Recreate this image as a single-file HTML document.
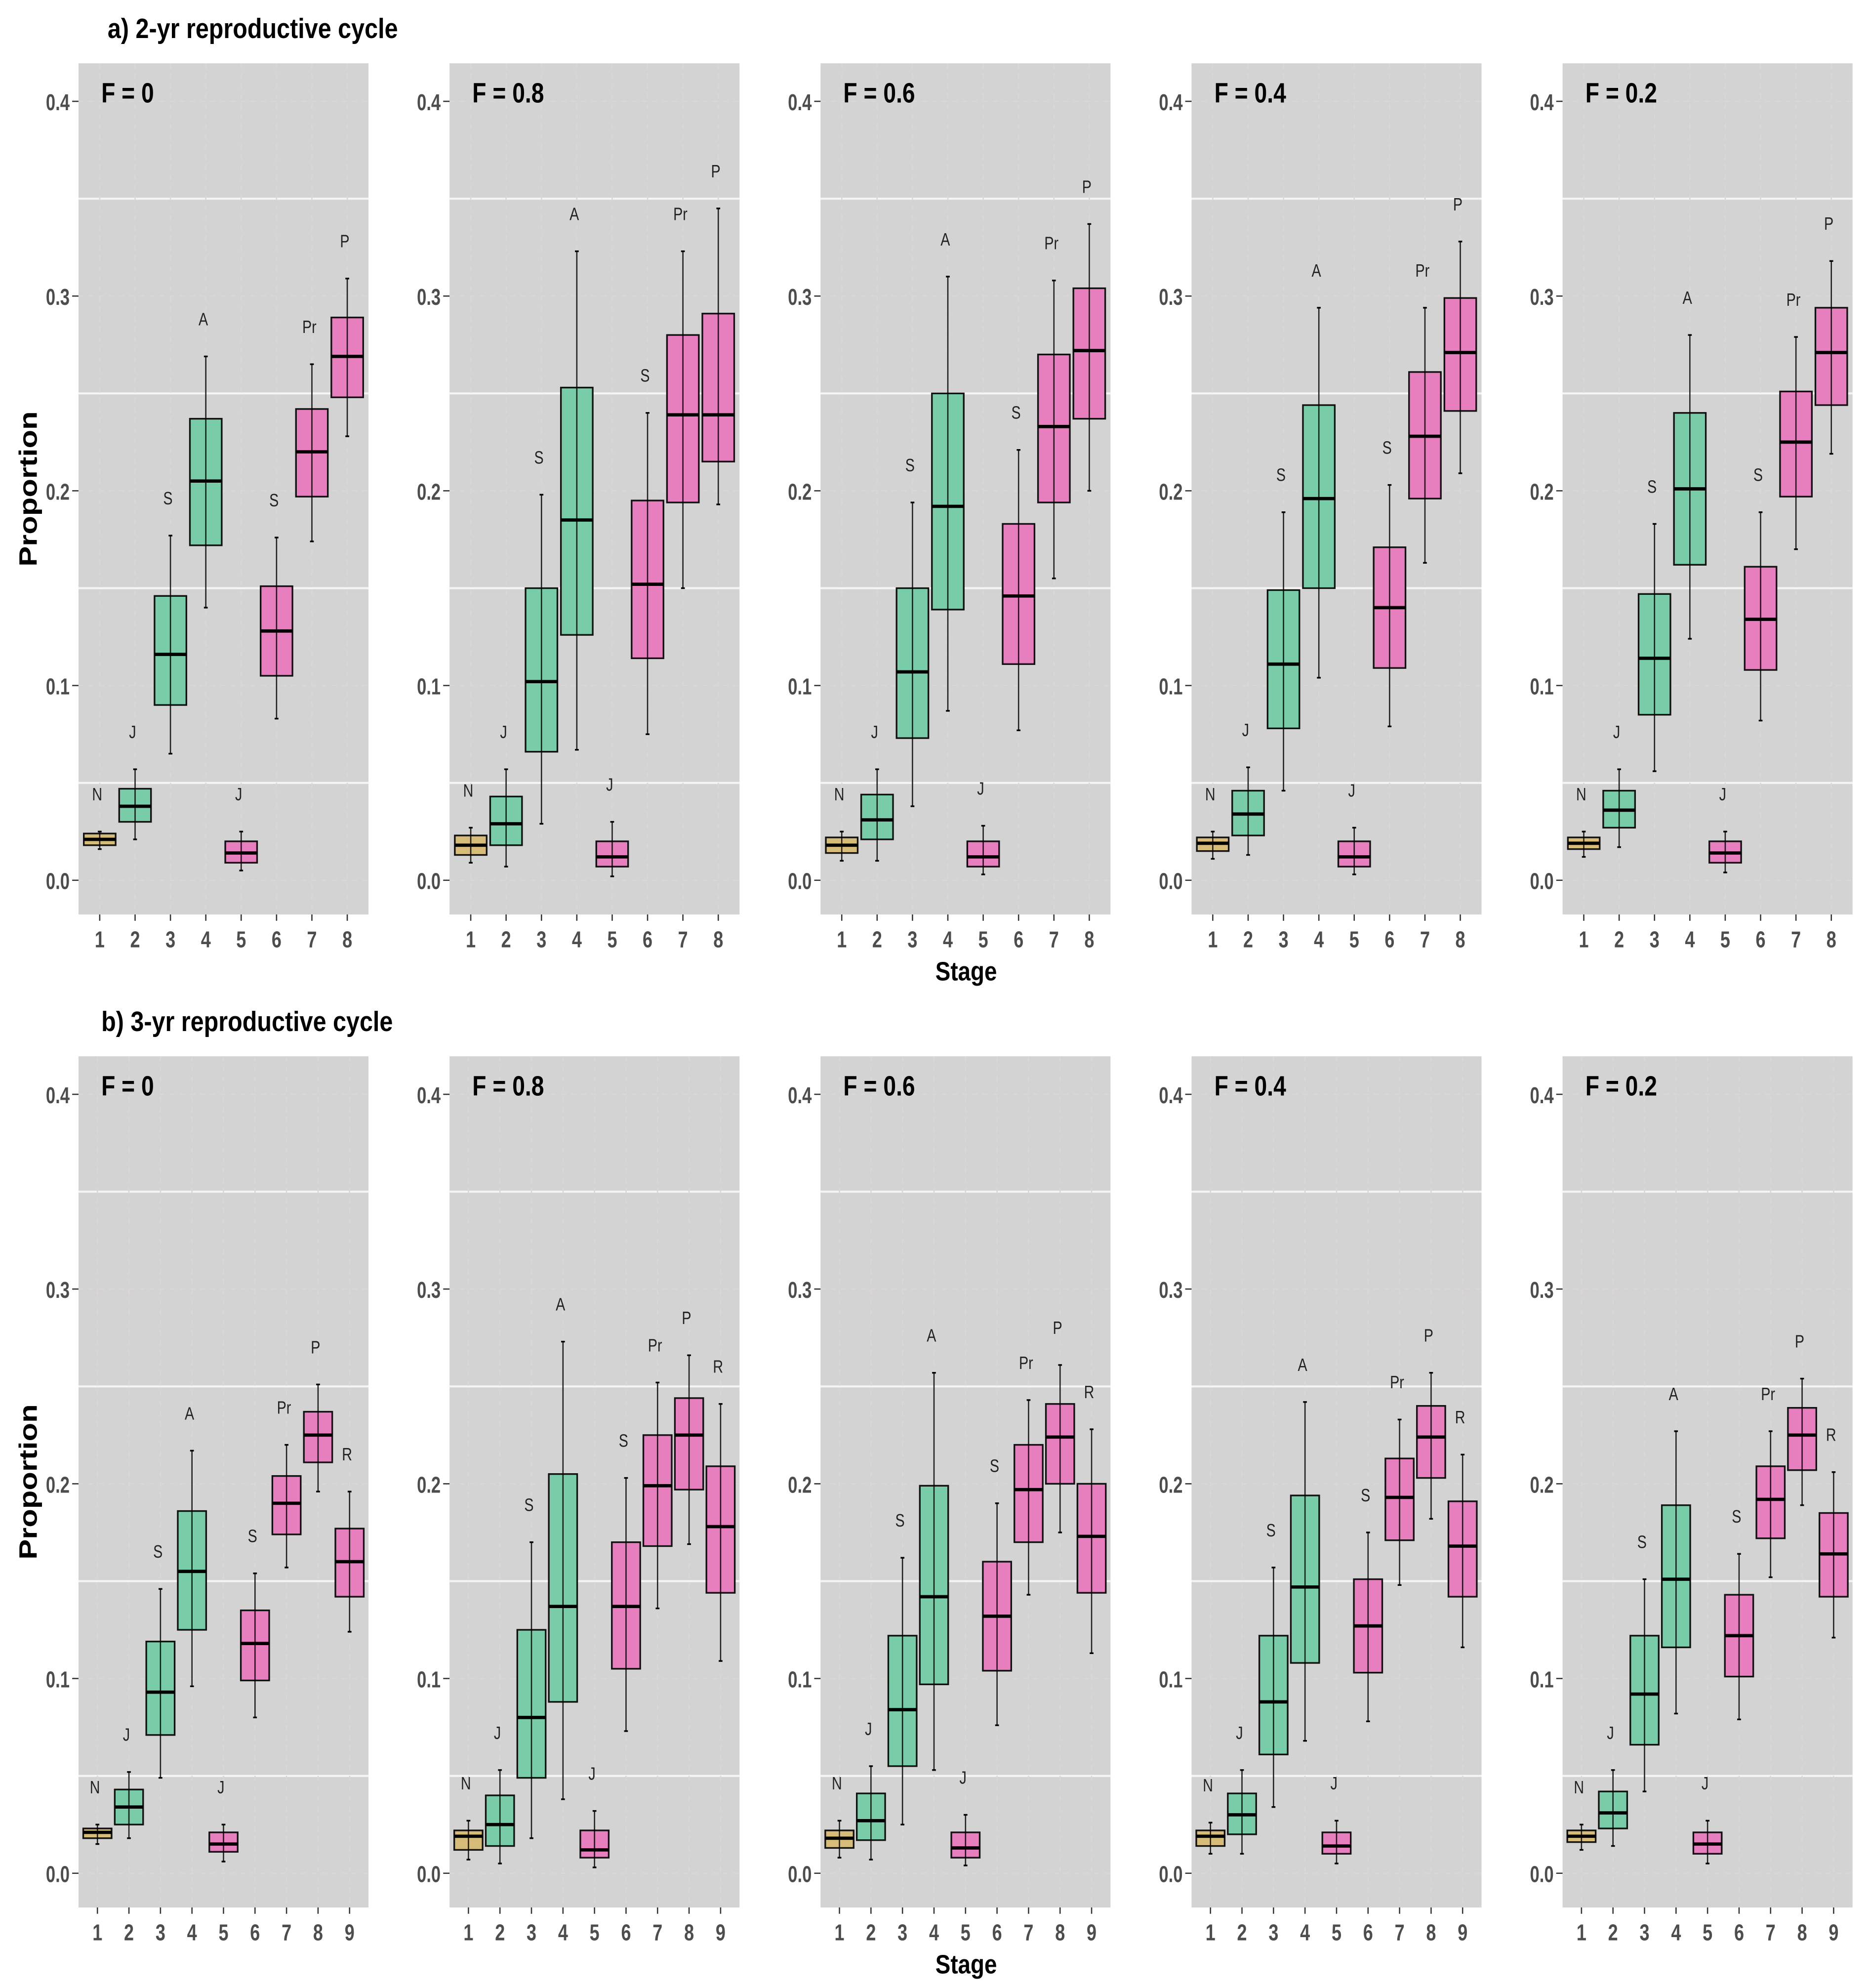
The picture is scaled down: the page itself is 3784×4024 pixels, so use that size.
<!DOCTYPE html>
<html><head><meta charset="utf-8"><style>
html,body{margin:0;padding:0;background:#fff}
svg{display:block}
text{font-family:"Liberation Sans",sans-serif}
</style></head><body>
<svg id="fig" width="3784" height="4024" viewBox="0 0 1476 1569.6" preserveAspectRatio="none" xmlns="http://www.w3.org/2000/svg"></svg>
<script>
// ---- data (each box: [upperWhisker, q3, median, q1, lowerWhisker]) ----
const panelTitles = ["F = 0","F = 0.8","F = 0.6","F = 0.4","F = 0.2"];
const yTicks = [0.0,0.1,0.2,0.3,0.4];
const yTickLabels = ["0.0","0.1","0.2","0.3","0.4"];
const stageLabelsA = ["N","J","S","A","J","S","Pr","P"];
const stageColorsA = ["tan","green","green","green","pink","pink","pink","pink"];
const stageLabelsB = ["N","J","S","A","J","S","Pr","P","R"];
const stageColorsB = ["tan","green","green","green","pink","pink","pink","pink","pink"];
const boxesA_F0 = [[.025,.024,.021,.018,.016],[.057,.047,.038,.030,.021],[.177,.146,.116,.090,.065],[.269,.237,.205,.172,.140],[.025,.020,.014,.009,.005],[.176,.151,.128,.105,.083],[.265,.242,.220,.197,.174],[.309,.289,.269,.248,.228]];
const boxesA_F08 = [[.027,.023,.018,.013,.009],[.057,.043,.029,.018,.007],[.198,.150,.102,.066,.029],[.323,.253,.185,.126,.067],[.030,.020,.012,.007,.002],[.240,.195,.152,.114,.075],[.323,.280,.239,.194,.150],[.345,.291,.239,.215,.193]];
const boxesA_F06 = [[.025,.022,.018,.014,.010],[.057,.044,.031,.021,.010],[.194,.150,.107,.073,.038],[.310,.250,.192,.139,.087],[.028,.020,.012,.007,.003],[.221,.183,.146,.111,.077],[.308,.270,.233,.194,.155],[.337,.304,.272,.237,.200]];
const boxesA_F04 = [[.025,.022,.019,.015,.011],[.058,.046,.034,.023,.013],[.189,.149,.111,.078,.046],[.294,.244,.196,.150,.104],[.027,.020,.012,.007,.003],[.203,.171,.140,.109,.079],[.294,.261,.228,.196,.163],[.328,.299,.271,.241,.209]];
const boxesA_F02 = [[.025,.022,.019,.016,.012],[.057,.046,.036,.027,.017],[.183,.147,.114,.085,.056],[.280,.240,.201,.162,.124],[.025,.020,.014,.009,.004],[.189,.161,.134,.108,.082],[.279,.251,.225,.197,.170],[.318,.294,.271,.244,.219]];
const boxesB_F0 = [[.025,.023,.021,.018,.015],[.052,.043,.034,.025,.018],[.146,.119,.093,.071,.049],[.217,.186,.155,.125,.096],[.025,.021,.015,.011,.006],[.154,.135,.118,.099,.080],[.220,.204,.190,.174,.157],[.251,.237,.225,.211,.196],[.196,.177,.160,.142,.124]];
const boxesB_F08 = [[.027,.022,.019,.012,.007],[.053,.040,.025,.014,.005],[.170,.125,.080,.049,.018],[.273,.205,.137,.088,.038],[.032,.022,.012,.008,.003],[.203,.170,.137,.105,.073],[.252,.225,.199,.168,.136],[.266,.244,.225,.197,.169],[.241,.209,.178,.144,.109]];
const boxesB_F06 = [[.027,.022,.018,.013,.008],[.055,.041,.027,.017,.007],[.162,.122,.084,.055,.025],[.257,.199,.142,.097,.053],[.030,.021,.013,.008,.004],[.190,.160,.132,.104,.076],[.243,.220,.197,.170,.143],[.261,.241,.224,.200,.175],[.228,.200,.173,.144,.113]];
const boxesB_F04 = [[.026,.022,.019,.014,.010],[.053,.041,.030,.020,.010],[.157,.122,.088,.061,.034],[.242,.194,.147,.108,.068],[.027,.021,.014,.010,.005],[.175,.151,.127,.103,.078],[.233,.213,.193,.171,.148],[.257,.240,.224,.203,.182],[.215,.191,.168,.142,.116]];
const boxesB_F02 = [[.025,.022,.019,.016,.012],[.053,.042,.031,.023,.014],[.151,.122,.092,.066,.042],[.227,.189,.151,.116,.082],[.027,.021,.015,.010,.005],[.164,.143,.122,.101,.079],[.227,.209,.192,.172,.152],[.254,.239,.225,.207,.189],[.206,.185,.164,.142,.121]];

const fillColors = {tan:"#D6BC78", green:"#78CDA8", pink:"#E77EBE"};
const NS = "http://www.w3.org/2000/svg";
const svg = document.getElementById("fig");
function el(tag, attrs, parent, txt){
  const e = document.createElementNS(NS, tag);
  for (const k in attrs) e.setAttribute(k, attrs[k]);
  if (txt !== undefined) e.textContent = txt;
  (parent||svg).appendChild(e);
  return e;
}
function label(x,y,str,size,weight,fill,anchor,sx,parent){
  const t = el("text",{transform:`translate(${x},${y}) scale(${sx},1)`,"font-size":size,"font-weight":weight,fill:fill,"text-anchor":anchor},parent,str);
  return t;
}
const panelXs = [62,355,648,941,1234];
const PW = 229;
function drawRow(rowTop, zeroY, boxesList, stageLabels, stageColors, rowName){
  const PH = 672;
  const unit = 1537.5;
  const yS = v => zeroY - v*unit;
  const n = stageLabels.length;
  const step = PW/(n-1+1.2);
  boxesList.forEach((boxes, pi) => {
    const px = panelXs[pi];
    const xS = i => px + step*(0.6+i);
    const g = el("g",{});
    
    
    const bg = el("rect",{x:px,y:rowTop,width:PW,height:PH,fill:"#D3D3D3"},g);
    
    
    [0.05,0.15,0.25,0.35].forEach(v=>{
      const l = el("line",{x1:px,x2:px+PW,y1:yS(v),y2:yS(v),stroke:"#F5F5F5","stroke-width":1.6},g);
      
      
    });
    yTicks.forEach(v=>{
      const l = el("line",{x1:px,x2:px+PW,y1:yS(v),y2:yS(v),stroke:"#DCD6D6","stroke-width":1,"stroke-dasharray":"4,4"},g);
      
      
    });
    for(let i=0;i<n;i++){
      const l = el("line",{x1:xS(i),x2:xS(i),y1:rowTop,y2:rowTop+PH,stroke:"#DCD6D6","stroke-width":1,"stroke-dasharray":"4,4"},g);
      
      
    }
    yTicks.forEach((v,k)=>{
      const tk = el("line",{x1:px-5,x2:px,y1:yS(v),y2:yS(v),stroke:"#333","stroke-width":1},g);
      
      
      const t = label(px-7,yS(v)+7,yTickLabels[k],18,"bold","#4D4D4D","end",0.75,g);
      
      
    });
    for(let i=0;i<n;i++){
      const tk = el("line",{x1:xS(i),x2:xS(i),y1:rowTop+PH,y2:rowTop+PH+5,stroke:"#333","stroke-width":1},g);
      
      
      const t = label(xS(i),rowTop+PH+26,String(i+1),18,"bold","#4D4D4D","middle",0.78,g);
      
      
    }
    const bw = step*0.9;
    boxes.forEach((b,i)=>{
      const [wu,q3,med,q1,wl] = b;
      const cx = xS(i);
      const bg2 = el("g",{},g);
      
      
      el("rect",{x:cx-bw/2,y:yS(q3),width:bw,height:yS(q1)-yS(q3),fill:fillColors[stageColors[i]],stroke:"#111","stroke-width":1.3},bg2);
      el("line",{x1:cx-bw/2,x2:cx+bw/2,y1:yS(med),y2:yS(med),stroke:"#000","stroke-width":2.6},bg2);
      el("line",{x1:cx,x2:cx,y1:yS(wu),y2:yS(wl),stroke:"#000","stroke-width":1,"stroke-opacity":0.85},bg2);
      el("line",{x1:cx-1.5,x2:cx+1.5,y1:yS(wu),y2:yS(wu),stroke:"#000","stroke-width":1.3},bg2);
      el("line",{x1:cx-1.5,x2:cx+1.5,y1:yS(wl),y2:yS(wl),stroke:"#000","stroke-width":1.3},bg2);
      const t = label(cx-2,yS(wu+0.016),stageLabels[i],14,"normal","#222","middle",0.8,g);
      
      
    });
    const ft = label(px+18,rowTop+31,panelTitles[pi],22,"bold","#000","start",0.82,g);
    
    
  });
  const yt = el("text",{transform:`translate(29,${rowTop+PH/2}) rotate(-90) scale(1.2,1)`,"font-size":20,"font-weight":"bold","text-anchor":"middle",fill:"#000"},svg,"Proportion");
  
  
  const xt = label(763,rowTop+PH+52,"Stage",21,"bold","#000","middle",0.85);
  
  
}
const ta = label(85,30,"a) 2-yr reproductive cycle",22,"bold","#000","start",0.86);


const tb = label(80,814,"b) 3-yr reproductive cycle",22,"bold","#000","start",0.86);


drawRow(50,695,[boxesA_F0,boxesA_F08,boxesA_F06,boxesA_F04,boxesA_F02],stageLabelsA,stageColorsA,"row-a");
drawRow(834,1479,[boxesB_F0,boxesB_F08,boxesB_F06,boxesB_F04,boxesB_F02],stageLabelsB,stageColorsB,"row-b");
</script>
</body></html>
